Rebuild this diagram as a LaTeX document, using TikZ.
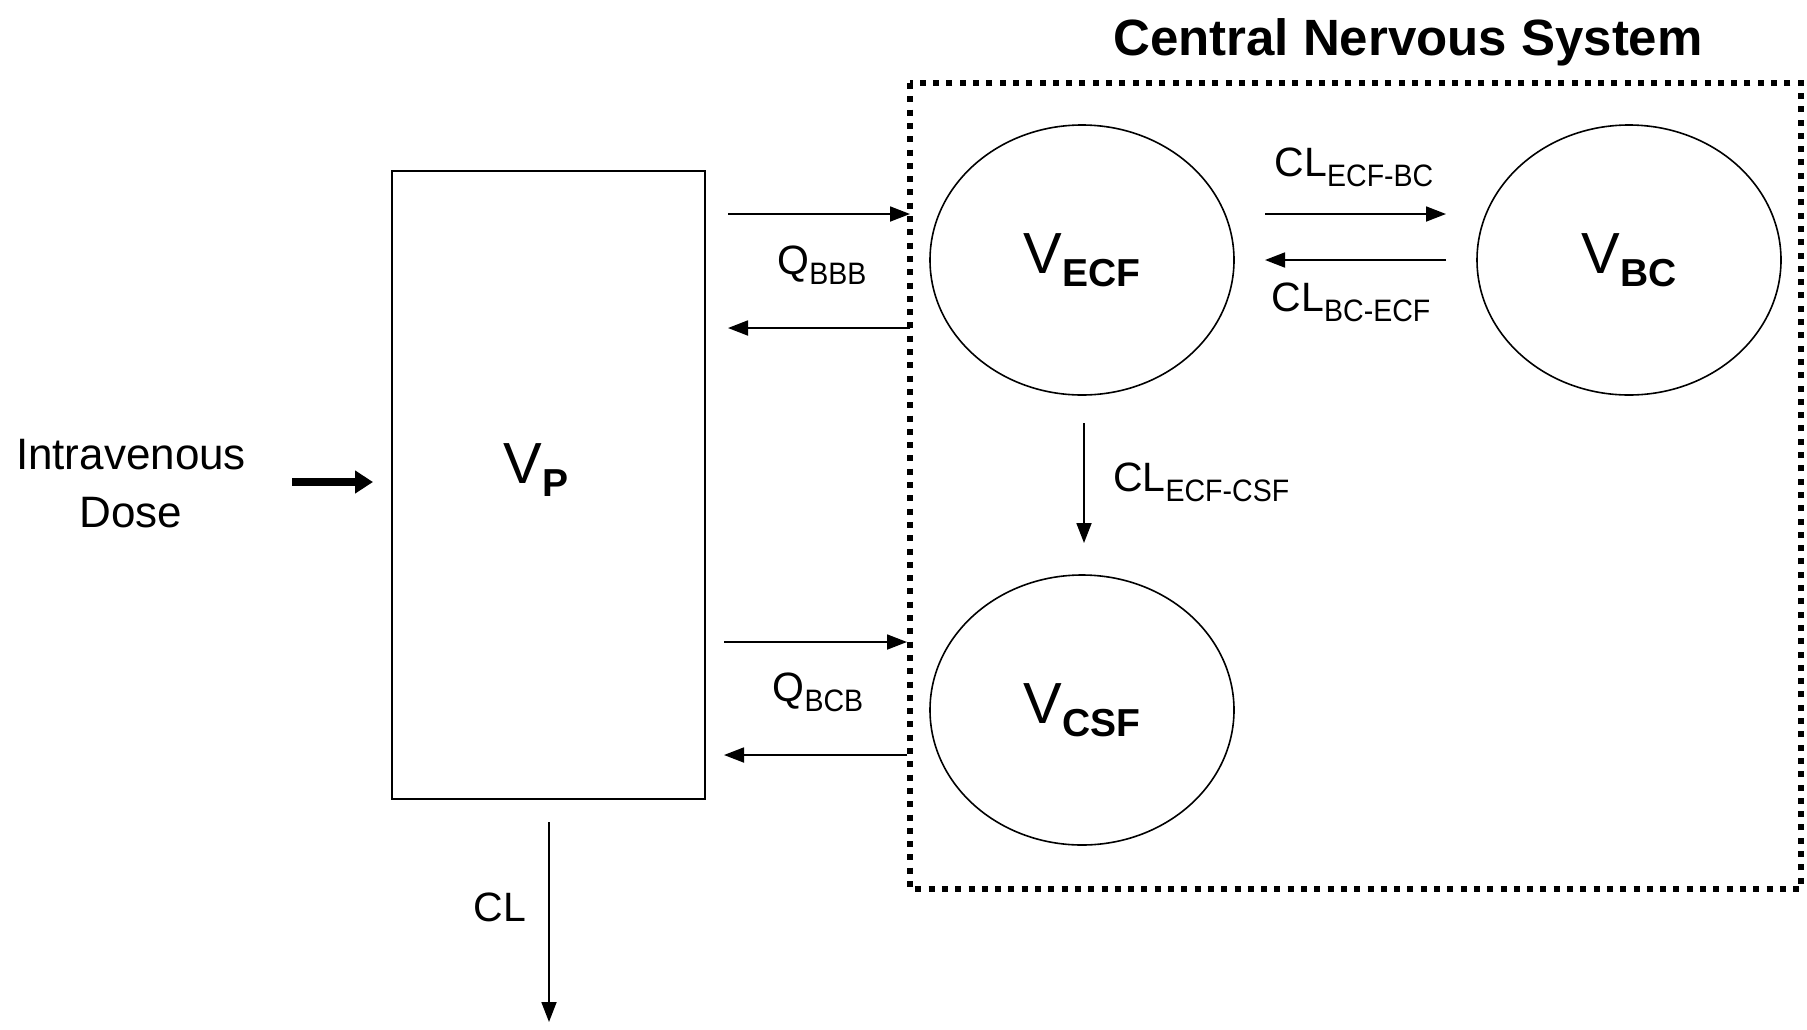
\documentclass[tikz,border=0pt]{standalone}
\usepackage{fontspec}
\setmainfont{Liberation Sans}
\usetikzlibrary{arrows.meta,shapes.geometric}
\newcommand\subl[2]{#1\raisebox{-10pt}{\fontsize{31}{31}\selectfont\scalebox{0.92}[1]{#2}}}
\newcommand\vlab[1]{V\raisebox{-13pt}{\fontsize{39}{39}\selectfont\bfseries #1}}
\tikzset{
  comp/.style={draw, line width=1.6pt, ellipse, minimum width=304pt, minimum height=270pt, inner sep=0pt, font=\fontsize{58}{58}\selectfont},
  flow/.style={line width=1.8pt, -{Triangle[length=20pt,width=15pt]}},
  lbl/.style={inner sep=0pt, font=\fontsize{41}{41}\selectfont},
}
\begin{document}
\begin{tikzpicture}[x=1pt,y=-1pt]
\useasboundingbox (0,0) rectangle (1807,1029);
% title and CNS box
\node[inner sep=0pt, font=\fontsize{51}{51}\selectfont\bfseries] (title) at (1408,42) {Central Nervous System};
\draw[line width=6pt, dash pattern=on 6pt off 7.3pt] (910,83) rectangle (1801,889);
\coordinate (cnsw1) at (910,214);
\coordinate (cnsw2) at (910,328);
\coordinate (cnsw3) at (907,642);
\coordinate (cnsw4) at (907,755);
% plasma
\node[draw, line width=1.6pt, minimum width=313pt, minimum height=628pt, inner sep=0pt] (VP) at (548.5,485) {};
\node[inner sep=0pt, font=\fontsize{58}{58}\selectfont] (VPl) at (536,470) {\vlab{P}};
% compartments
\node[comp] (ECF) at (1082,260) {\vlab{ECF}};
\node[comp] (BC) at (1629,260) {\vlab{BC}};
\node[comp] (CSF) at (1082,710) {\vlab{CSF}};
% dose
\node[inner sep=0pt, align=center, font=\fontsize{44}{58}\selectfont] (dose) at (131,484) {Intravenous\\Dose};
\coordinate (d1) at (292,482);
\coordinate (d2) at (373,482);
\draw[line width=8pt, -{Triangle[length=18pt,width=22pt]}] (d1) -- (d2);
% BBB flows
\coordinate (p1) at (728,214);
\coordinate (p2) at (728,328);
\coordinate (p3) at (724,642);
\coordinate (p4) at (724,755);
\draw[flow] (p1) -- (cnsw1);
\draw[flow] (cnsw2) -- (p2);
\node[lbl] (qbbb) at (822,265) {\subl{Q}{BBB}};
\draw[flow] (p3) -- (cnsw3);
\draw[flow] (cnsw4) -- (p4);
\node[lbl] (qbcb) at (818,692) {\subl{Q}{BCB}};
% ECF <-> BC
\coordinate (e1) at (1265,214);
\coordinate (e2) at (1446,214);
\coordinate (e3) at (1446,260);
\coordinate (e4) at (1265,260);
\draw[flow] (e1) -- (e2);
\draw[flow] (e3) -- (e4);
\node[lbl] (cleb) at (1354,167) {\subl{CL}{ECF-BC}};
\node[lbl] (clbe) at (1351,302) {\subl{CL}{BC-ECF}};
% ECF -> CSF
\coordinate (c1) at (1084,423);
\coordinate (c2) at (1084,543);
\draw[flow] (c1) -- (c2);
\node[lbl, anchor=west] (clec) at (1113,482) {\subl{CL}{ECF-CSF}};
% elimination
\coordinate (x1) at (549,822);
\coordinate (x2) at (549,1022);
\draw[flow] (x1) -- (x2);
\node[lbl] (cl) at (500,907) {CL};
\end{tikzpicture}
\end{document}
